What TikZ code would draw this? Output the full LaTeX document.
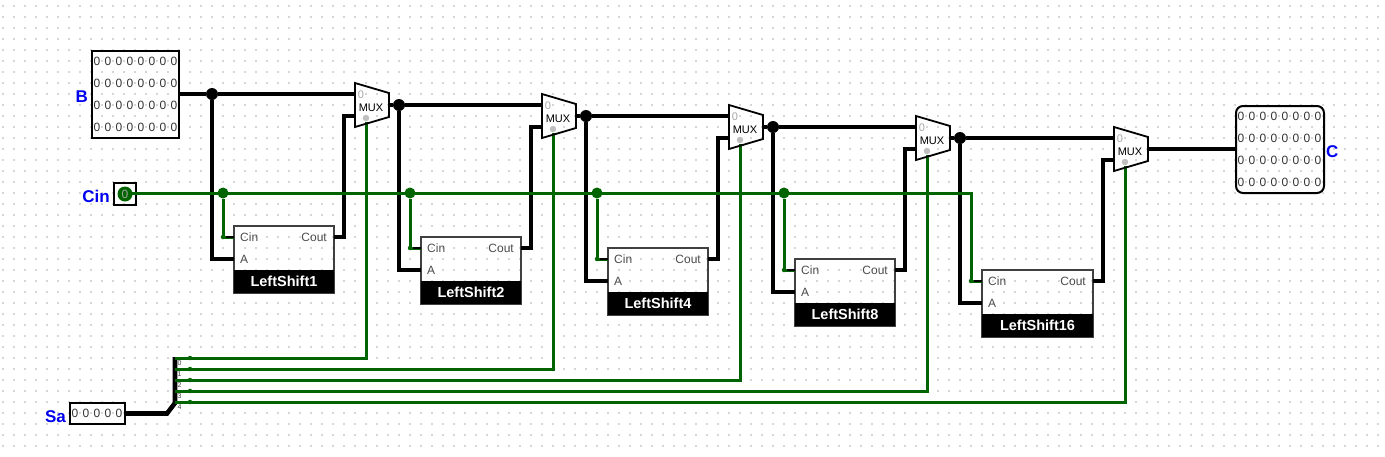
\documentclass[tikz,border=0pt]{standalone}
\usepackage{fontspec}
\setmainfont{Liberation Sans}
\usetikzlibrary{
    positioning,
    calc,
}
\definecolor{wiregreen}{RGB}{0,100,0}
\definecolor{pinblue}{RGB}{0,0,240}

\begin{document}
\begin{tikzpicture}[
    x=1pt, y=-1pt,
    bus/.style={draw=black, line width=3.8pt, line join=miter},
    wire/.style={draw=wiregreen, line width=3pt},
    busjoint/.style={fill=black, circle, inner sep=0pt, minimum size=12pt},
    wirejoint/.style={fill=wiregreen, circle, inner sep=0pt, minimum size=11pt},
    pinjoint/.style={fill=wiregreen, circle, inner sep=0pt, minimum size=4.5pt},
    bitbox/.style={draw=black, line width=2pt, anchor=north west, inner sep=0pt, outer sep=0pt},
    bitdigit/.style={text=black!80, font=\fontsize{12}{12}\selectfont, inner sep=0pt},
    shiftbody/.style={draw=black!75, line width=1.6pt, anchor=north west, inner sep=0pt, outer sep=0pt, minimum height=67pt},
    shifthead/.style={fill=black, text=white, anchor=south west, inner sep=0pt, outer sep=0pt, minimum height=23pt, font=\fontsize{14.5}{14.5}\selectfont\bfseries},
    pintext/.style={text=black!70, inner sep=0pt, font=\fontsize{12}{12}\selectfont},
    muxshape/.style={draw=black, line width=1.8pt, line join=miter},
    muxtext/.style={inner sep=0pt, font=\fontsize{11}{11}\selectfont},
    selpin/.style={fill=black!25, circle, inner sep=0pt, minimum size=6.5pt},
    tagtext/.style={text=pinblue, inner sep=0pt, font=\fontsize{17}{17}\selectfont\bfseries},
    splitnum/.style={text=black!75, inner sep=0pt, font=\fontsize{7}{7}\selectfont},
]
\useasboundingbox (0,0) rectangle (1385,456);

% grid
\foreach \i in {0,...,125} {
    \foreach \j in {0,...,40} {
        \fill[black!70] (3+11*\i,6+11*\j) circle (0.6pt);
    }
}

% stages: mux and shift block
\foreach \n/\mx/\my/\sx/\sy/\sw in {1/355/94/234/226/100, 2/542/105/421/237/100, 3/729/116/608/248/100,
                                    4/916/127/795/259/100, 5/1114/138/982/270/111} {
    \coordinate (muxA\n) at (\mx,\my);
    \coordinate (muxB\n) at (\mx,\my+22);
    \coordinate (muxout\n) at (\mx+34,\my+11);
    \coordinate (selpt\n) at (\mx+11,\my+28);
    \node[shiftbody, minimum width=\sw pt] (shift\n) at (\sx,\sy) {};
    \node[shifthead, minimum width=\sw pt] (head\n) at (shift\n.south west) {LeftShift\ifcase\n\or 1\or 2\or 4\or 8\or 16\fi};
    \coordinate (shiftcin\n) at (\sx,\sy+11);
    \coordinate (shifta\n) at (\sx,\sy+33);
    \coordinate (shiftcout\n) at (\sx+\sw,\sy+11);
    \node[pintext, anchor=west] (cintext\n) at (\sx+6,\sy+11) {Cin};
    \node[pintext, anchor=west] (atext\n) at (\sx+6,\sy+33) {A};
    \node[pintext, anchor=east] (couttext\n) at (\sx+\sw-7,\sy+11) {Cout};
}

% B input
\node[bitbox, minimum width=87pt, minimum height=87pt] (inB) at (92,51) {};
\node[tagtext, anchor=east] (tagB) at (inB.west) [xshift=-4pt, yshift=-2.5pt] {B};
% C output
\node[bitbox, rounded corners=7pt, minimum width=88pt, minimum height=87pt] (outC) at (1236,106) {};
\node[tagtext, anchor=west] (tagC) at (outC.east) [xshift=2pt, yshift=-2pt] {C};
% bits
\foreach \r in {0,...,3} {
    \foreach \c in {0,...,7} {
        \node[bitdigit] (bitB\r\c) at (97+11*\c,61+22*\r) {0};
        \node[bitdigit] (bitC\r\c) at (1241+11*\c,116+22*\r) {0};
    }
}
% Cin
\node[draw=black, line width=1.8pt, anchor=north west, outer sep=0pt, minimum width=22pt, minimum height=22pt, inner sep=0pt] (cin) at (114,183) {};
\node[tagtext, anchor=east] (tagCin) at (cin.west) [xshift=-4pt, yshift=-2pt] {Cin};
% Sa
\node[bitbox, minimum width=55pt, minimum height=21pt] (sa) at (70,403) {};
\node[tagtext, anchor=east] (tagSa) at (sa.west) [xshift=-4pt, yshift=-3pt] {Sa};
\foreach \c in {0,...,4} {
    \node[bitdigit] (bitSa\c) at (75+11*\c,413) {0};
}

% buses
\node[busjoint] (joint0) at (212,94) {};
\draw[bus] (inB.east |- joint0) -- (joint0) -- (muxA1);
\draw[bus] (joint0) |- (shifta1);
\foreach \n/\next in {1/2,2/3,3/4,4/5} {
    \node[busjoint] (joint\n) at ($(muxout\n)+(10,0)$) {};
    \draw[bus] (muxout\n) -- (joint\n) -- (muxA\next);
    \draw[bus] (joint\n) |- (shifta\next);
}
\foreach \n in {1,...,5} {
    \draw[bus] (shiftcout\n) -- ++(10,0) |- (muxB\n);
}
\draw[bus] (muxout5) -- (outC.west |- muxout5);

% splitter
\coordinate (splittop) at (175,357);
\coordinate (splitbend) at (167,413.5);
\coordinate (splitfoot) at (175,403);
\draw[bus, line width=4.6pt] (sa.east) -- (splitbend) -- (splitfoot) -- (splittop);

% select wires
\foreach \n/\ty in {1/358,2/369,3/380,4/391,5/402} {
    \coordinate (tap\n) at (175,\ty);
    \draw[wire] (tap\n) -| (selpt\n);
    \node[pinjoint] (tapdot\n) at (190,\ty) {};
    \pgfmathtruncatemacro{\bitnum}{\n-1}
    \node[splitnum] (tapnum\n) at (179.5,\ty+5) {\bitnum};
}

% carry wires
\coordinate (cincorner) at (971,193);
\draw[wire] (cin.center |- cincorner) -- (cincorner) |- (shiftcin5);
\foreach \n/\jx in {1/223,2/410,3/597,4/784} {
    \node[wirejoint] (cinjoint\n) at (\jx,193) {};
    \draw[wire] (cinjoint\n) |- (shiftcin\n);
    \node[pinjoint] (cinpin\n) at (shiftcin\n -| cinjoint\n) {};
}
\node[pinjoint] (cinpin5) at (shiftcin5 -| cincorner) {};
\foreach \n in {1,...,5} {
    \draw[line width=2.4pt] (shiftcin\n) -- ++(-8,0);
}
\node[fill=wiregreen, circle, inner sep=0pt, minimum size=15pt, text=black!35, font=\fontsize{12}{12}\selectfont] (cinbit) at (cin.center) {0};

% mux shapes on top
\foreach \n in {1,...,5} {
    \draw[muxshape] ($(muxA\n)+(0,-11)$) -- ($(muxout\n)+(0,-12)$) -- ($(muxout\n)+(0,12)$) -- ($(muxB\n)+(0,11)$) -- cycle;
    \node[muxtext, text=black!35] (muxzero\n) at ($(muxA\n)+(6,1)$) {0};
    \node[muxtext] (muxname\n) at ($(muxA\n)+(16,14)$) {MUX};
    \node[selpin] (muxsel\n) at ($(muxA\n)+(11,24)$) {};
}

\end{tikzpicture}
\end{document}
